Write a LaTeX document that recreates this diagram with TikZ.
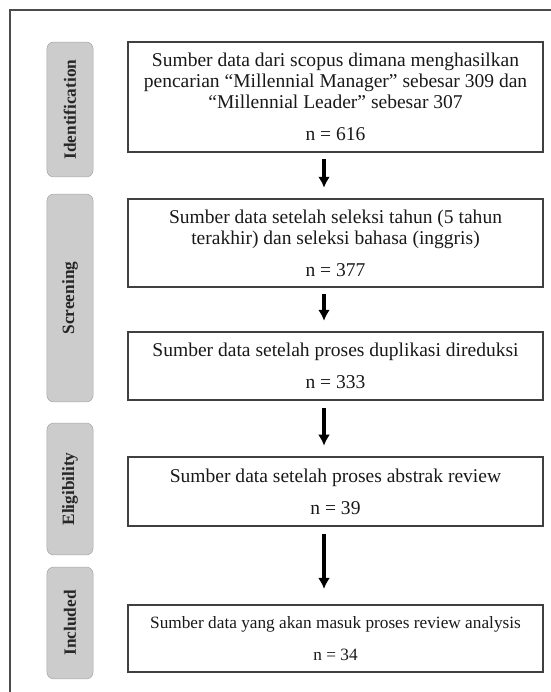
\documentclass[tikz,border=0pt]{standalone}
\usepackage{fontspec}
\setmainfont{Liberation Serif}
\usetikzlibrary{arrows.meta}

\begin{document}
\begin{tikzpicture}[
  stage/.style={draw=black!35,fill=black!20,rounded corners=1.8mm,
    minimum height=1.22cm,rotate=90,text=black!85,
    font=\fontsize{13}{15}\selectfont\bfseries},
  record/.style={draw=black!75,line width=1pt,minimum width=10.98cm,
    align=center,inner sep=0pt,text=black!90,
    font=\fontsize{14.7}{15.75}\selectfont},
  flow/.style={-{Latex[length=8.25pt,width=9pt]},line width=2.5pt,
    shorten <=1.8mm,shorten >=2.8mm}
]
  \useasboundingbox (0,0) rectangle (14.578,-18.309);

  % frame
  \draw[black!70,line width=1.1pt] (0.265,-18.309) -- (0.265,-0.265) -- (14.578,-0.265);

  % stages
  \node[stage,minimum width=3.57cm] (ident) at (1.852,-2.897) {Identification};
  \node[stage,minimum width=5.50cm] (screen) at (1.852,-7.885) {Screening};
  \node[stage,minimum width=3.49cm] (elig) at (1.852,-12.938) {Eligibility};
  \node[stage,minimum width=2.96cm] (incl) at (1.852,-16.483) {Included};

  % records
  \node[record,minimum height=2.91cm] (b1) at (8.877,-2.566)
    {Sumber data dari scopus dimana menghasilkan\\
     pencarian “Millennial Manager” sebesar 309 dan\\
     “Millennial Leader” sebesar 307\\[8.25pt]
     n = 616};
  \node[record,minimum height=2.33cm] (b2) at (8.877,-6.429)
    {Sumber data setelah seleksi tahun (5 tahun\\
     terakhir) dan seleksi bahasa (inggris)\\[8.25pt]
     n = 377};
  \node[record,minimum height=1.80cm] (b3) at (8.877,-9.684)
    {Sumber data setelah proses duplikasi direduksi\\[8.25pt]
     n = 333};
  \node[record,minimum height=1.83cm] (b4) at (8.877,-13.004)
    {Sumber data setelah proses abstrak review\\[8.25pt]
     n = 39};
  \node[record,minimum height=1.77cm,font=\fontsize{13}{15.75}\selectfont] (b5) at (8.877,-16.894)
    {Sumber data yang akan masuk proses review analysis\\[8.25pt]
     n = 34};

  % arrows
  \coordinate (ax) at (8.573,0);
  \draw[flow] (b1.south -| ax) -- (b2.north -| ax);
  \draw[flow] (b2.south -| ax) -- (b3.north -| ax);
  \draw[flow] (b3.south -| ax) -- (b4.north -| ax);
  \draw[flow,shorten >=4.1mm] (b4.south -| ax) -- (b5.north -| ax);
\end{tikzpicture}
\end{document}
